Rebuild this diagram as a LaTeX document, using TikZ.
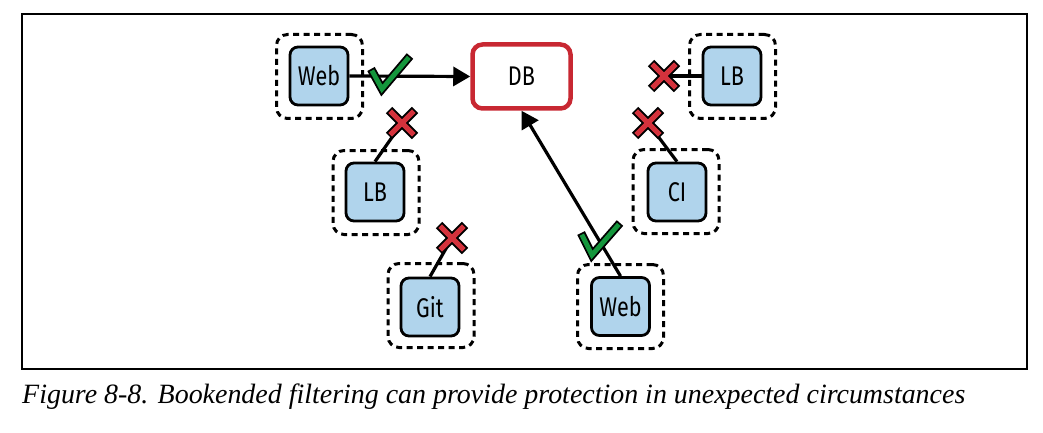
\documentclass[tikz,border=0pt]{standalone}
\usepackage{fontspec}
\setmainfont{Liberation Serif}
\newfontfamily\boxfont[FakeStretch=0.8]{Fira Sans}
\usetikzlibrary{arrows.meta,calc}
\definecolor{boxblue}{RGB}{176,212,236}
\definecolor{dbred}{RGB}{200,40,50}
\definecolor{okgreen}{RGB}{20,150,60}
\definecolor{xred}{RGB}{212,50,60}
\tikzset{
  svc/.style={draw, line width=2.8pt, fill=boxblue, rounded corners=8pt,
    minimum width=58pt, minimum height=58pt, inner sep=0pt,
    font=\boxfont\fontsize{27}{27}\selectfont},
  zone/.style={draw, line width=3pt, dash pattern=on 6pt off 4.5pt,
    rounded corners=11pt, minimum width=86pt, minimum height=84pt, inner sep=0pt},
  dbbox/.style={draw=dbred, line width=4.5pt, fill=white, rounded corners=10pt,
    minimum width=98pt, minimum height=64pt, inner sep=0pt,
    font=\boxfont\fontsize{27}{27}\selectfont},
  conn/.style={line width=3.2pt},
  tip/.style={-{Triangle[length=17pt,width=19pt]}},
}
\newcommand{\xmark}[1]{%
  \draw[line width=9pt] ($(#1)+(-13,-13)$) -- ($(#1)+(13,13)$);
  \draw[line width=9pt] ($(#1)+(-13,13)$) -- ($(#1)+(13,-13)$);
  \draw[line width=5pt, xred] ($(#1)+(-11.8,-11.8)$) -- ($(#1)+(11.8,11.8)$);
  \draw[line width=5pt, xred] ($(#1)+(-11.8,11.8)$) -- ($(#1)+(11.8,-11.8)$);
}
\begin{document}
\begin{tikzpicture}[x=1pt,y=-1pt]
\useasboundingbox (0,0) rectangle (1043,433);
\draw[line width=1.4pt] (22,14) rectangle (1027,369);

% zones
\node[zone] (zweb1) at (319.5,76.5) {};
\node[zone] (zlbR) at (732.5,76.5) {};
\node[zone] (zlbL) at (376,192.5) {};
\node[zone] (zci) at (676,191.5) {};
\node[zone] (zgit) at (431,305.5) {};
\node[zone] (zweb2) at (620.5,306.5) {};

% services
\node[svc] (web1) at (319,76) {Web};
\node[svc] (lbR) at (732,76) {LB};
\node[svc] (lbL) at (375,192) {LB};
\node[svc] (ci) at (677,192) {CI};
\node[svc] (git) at (430,307) {Git};
\node[svc] (web2) at (620.5,306.5) {Web};
\node[dbbox] (db) at (521.5,76.5) {DB};

% blocked endpoints
\coordinate (xlbR) at (664,76);
\coordinate (xci) at (648,123);
\coordinate (xlbL) at (402,123);
\coordinate (xgit) at (452,238);

% connectors
\draw[conn, tip] (web1.east) -- (db.west);
\draw[conn, tip] (web2.north) -- (db.south);
\draw[conn] (lbR.west) -- (xlbR);
\draw[conn] (ci.north) -- (xci);
\draw[conn] (lbL.north) -- (xlbL);
\draw[conn] (git.north) -- (xgit);

% check marks
\draw[line width=8.5pt, line join=miter] (371,69) -- (382,89) -- (410,56);
\draw[line width=4.8pt, okgreen, line join=miter, shorten <=1.8pt, shorten >=1.8pt] (371,69) -- (382,89) -- (410,56);
\draw[line width=8.5pt, line join=miter] (581,233) -- (592,255) -- (620,223);
\draw[line width=4.8pt, okgreen, line join=miter, shorten <=1.8pt, shorten >=1.8pt] (581,233) -- (592,255) -- (620,223);

% crosses
\xmark{xlbR}
\xmark{xci}
\xmark{xlbL}
\xmark{xgit}

\node[anchor=base west, inner sep=0pt] (cap) at (22,403)
  {\resizebox{943pt}{!}{\itshape Figure 8-8. Bookended filtering can provide protection in unexpected circumstances}};
\end{tikzpicture}
\end{document}
